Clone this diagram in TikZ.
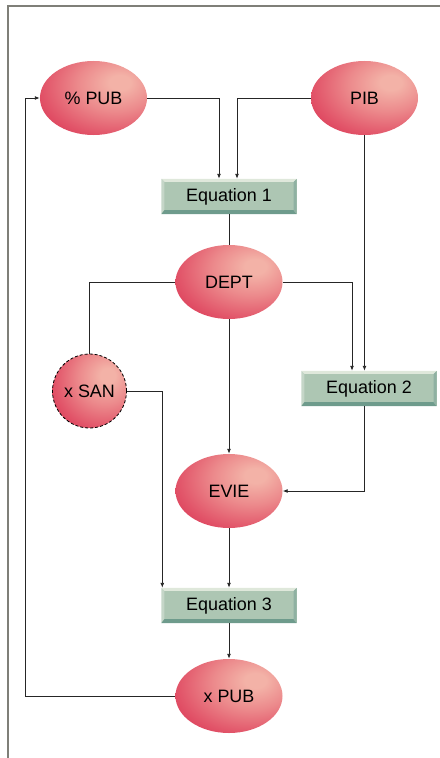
\documentclass[tikz,border=0pt]{standalone}
\usepackage{fontspec}
\setmainfont{Liberation Sans}
\usetikzlibrary{shapes.geometric,arrows.meta}
\definecolor{hl}{HTML}{F3B2A7}
\definecolor{hl2}{HTML}{EC8A8C}
\definecolor{midred}{HTML}{E2566A}
\definecolor{rim}{HTML}{D62448}
\definecolor{boxfill}{HTML}{ADC6B3}
\definecolor{boxlight}{HTML}{DFE8DB}
\definecolor{boxdark}{HTML}{6E9B8C}
\definecolor{boxmidl}{HTML}{C5D6C8}
\definecolor{boxmidd}{HTML}{8FB1A2}
\definecolor{framegray}{HTML}{7F7F78}
\pgfdeclareradialshading{redball}{\pgfpoint{13bp}{11bp}}{color(0bp)=(hl); color(5bp)=(hl); color(18bp)=(hl2); color(32bp)=(midred); color(47bp)=(rim); color(100bp)=(rim)}
\newcommand\bevel[1]{%
  \fill[boxlight] (#1.north west) -- (#1.north east) -- ([shift={(-3,3)}]#1.north east) -- ([shift={(3,3)}]#1.north west) -- cycle;
  \fill[boxmidl] (#1.north west) -- ([shift={(3,3)}]#1.north west) -- ([shift={(3,-4)}]#1.south west) -- (#1.south west) -- cycle;
  \fill[boxdark] (#1.south west) -- (#1.south east) -- ([shift={(-3,-4)}]#1.south east) -- ([shift={(3,-4)}]#1.south west) -- cycle;
  \fill[boxmidd] (#1.north east) -- ([shift={(-3,3)}]#1.north east) -- ([shift={(-3,-4)}]#1.south east) -- (#1.south east) -- cycle;
}
\begin{document}
\begin{tikzpicture}[x=1bp,y=-1bp,
  blob/.style={ellipse, shade, shading=redball, minimum width=107bp, minimum height=74bp, inner sep=0pt, font=\fontsize{18}{21}\selectfont},
  ballnode/.style={circle, shade, shading=redball, draw=black, dash pattern=on 3bp off 2bp, line width=0.8bp, minimum size=74bp, inner sep=0pt, font=\fontsize{18}{21}\selectfont},
  eqbox/.style={rectangle, fill=boxfill, minimum width=135bp, minimum height=35bp, inner sep=0pt, font=\fontsize{18}{21}\selectfont},
  conn/.style={draw=black!85, line width=0.9bp},
  arr/.style={conn, -{Latex[length=5bp,width=4bp]}}
]
\useasboundingbox (0,0) rectangle (440,758);
\draw[framegray, line width=1.5bp] (8,758) -- (8,6) -- (440,6);

\node[blob] (pp) at (93.5,98) {\% PUB};
\node[blob] (pib) at (364.5,98) {PIB};
\node[eqbox] (e1) at (229,196.5) {};
\bevel{e1}
\node at (e1) [font=\fontsize{18}{21}\selectfont] (e1t) {Equation 1};
\node[blob] (dept) at (229,282) {DEPT};
\node[ballnode] (xsan) at (89.5,391) {x SAN};
\node[eqbox] (e2) at (369,388.5) {};
\bevel{e2}
\node at (e2) [font=\fontsize{18}{21}\selectfont] (e2t) {Equation 2};
\node[blob] (evie) at (229,491) {EVIE};
\node[eqbox] (e3) at (229,605.5) {};
\bevel{e3}
\node at (e3) [font=\fontsize{18}{21}\selectfont] (e3t) {Equation 3};
\node[blob] (xpub) at (229,696) {x PUB};
\coordinate (fbx) at (25,0);

\draw[arr] (pp.east) -| ([xshift=-10bp]e1.north);
\draw[arr] (pib.west) -| ([xshift=8bp]e1.north);
\draw[conn] (e1.south) -- (dept.north);
\draw[conn] (dept.west) -| (xsan.north);
\draw[arr] (dept.east) -| ([xshift=-17bp]e2.north);
\draw[arr] (pib.south) -- (pib.south |- e2.north);
\draw[arr] (dept.south) -- (evie.north);
\draw[arr] ([xshift=-5bp]e2.south) |- (evie.east);
\draw[arr] (xsan.east) -| ([xshift=1bp]e3.north west);
\draw[arr] (evie.south) -- (e3.north);
\draw[arr] (e3.south) -- (xpub.north);
\draw[arr] (xpub.west) -- (xpub.west -| fbx) |- (pp.west);
\end{tikzpicture}
\end{document}
